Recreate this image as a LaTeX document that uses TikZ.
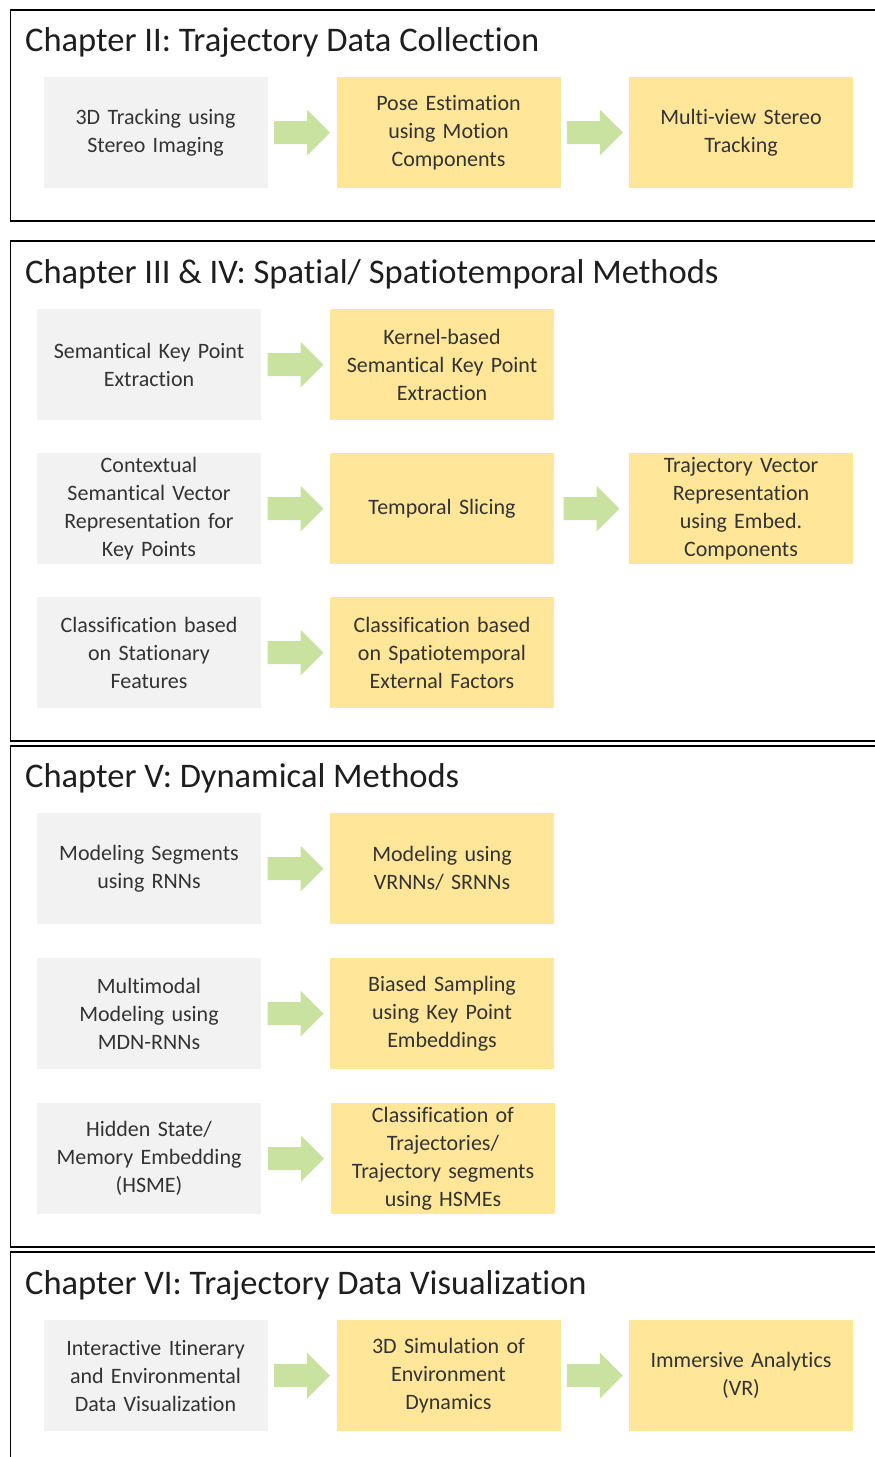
\documentclass[tikz,border=0pt]{standalone}
\usepackage{fontspec}
\setmainfont{Carlito}[Ligatures={NoCommon}]
\usetikzlibrary{calc}
\definecolor{greybox}{HTML}{F2F2F2}
\definecolor{yellowbox}{HTML}{FFE699}
\definecolor{arrowgreen}{RGB}{202,226,160}
\definecolor{boxtext}{HTML}{333333}
\definecolor{titletext}{HTML}{1E1E1E}
\tikzset{
  chapterframe/.style={draw=black, line width=1.6pt},
  chaptertitle/.style={anchor=base west, inner sep=0pt, text=titletext,
    font=\fontsize{34.5}{40}\selectfont},
  stagebox/.style={rectangle, minimum width=224pt, minimum height=111pt,
    text width=222pt, align=center, inner sep=0pt, text=boxtext,
    font=\fontsize{22}{28}\selectfont},
  basebox/.style={stagebox, fill=greybox},
  nextbox/.style={stagebox, fill=yellowbox},
}
% block arrow centred between two named boxes
\newcommand{\flowarrow}[2]{%
  \fill[arrowgreen, shift={($(#1.east)!0.5!(#2.west)$)}]
    (-28,-11.5) -- (5,-11.5) -- (5,-23) -- (28,0) -- (5,23) -- (5,11.5)
    -- (-28,11.5) -- cycle;}
\begin{document}
\begin{tikzpicture}[x=1pt,y=-1pt]
\useasboundingbox[fill=white] (0,0) rectangle (875,1457);
\begin{scope}
\clip (0,0) rectangle (875,1457);
% chapter frames
\draw[chapterframe] (10.5,10) rectangle (900,221);
\draw[chapterframe] (10.5,241) rectangle (900,741);
\draw[chapterframe] (10.5,746) rectangle (900,1247);
\draw[chapterframe] (10.5,1252) rectangle (900,1480);
\end{scope}

% Chapter II
\node[chaptertitle] (t2) at (25,51) {Chapter II: Trajectory Data Collection};
\node[basebox] (a1) at (155.5,132.5) {3D Tracking using\\Stereo Imaging};
\node[nextbox] (a2) at (448.5,132.5) {Pose Estimation\\using Motion\\Components};
\node[nextbox] (a3) at (741,132.5) {Multi-view Stereo\\Tracking};
\flowarrow{a1}{a2}
\flowarrow{a2}{a3}

% Chapter III & IV
\node[chaptertitle] (t3) at (25,283) {Chapter III \& IV: Spatial/ Spatiotemporal Methods};
\node[basebox] (b1) at (149,364.5) {Semantical Key Point\\Extraction};
\node[nextbox] (b2) at (442,364.5) {Kernel-based\\Semantical Key Point\\Extraction};
\flowarrow{b1}{b2}
\node[basebox] (c1) at (149,508.5) {Contextual\\Semantical Vector\\Representation for\\Key Points};
\node[nextbox] (c2) at (442,508.5) {Temporal Slicing};
\node[nextbox] (c3) at (741,508.5) {Trajectory Vector\\Representation\\using Embed.\\Components};
\flowarrow{c1}{c2}
\flowarrow{c2}{c3}
\node[basebox] (d1) at (149,652.5) {Classification based\\on Stationary\\Features};
\node[nextbox] (d2) at (442,652.5) {Classification based\\on Spatiotemporal\\External Factors};
\flowarrow{d1}{d2}

% Chapter V
\node[chaptertitle] (t5) at (25,787) {Chapter V: Dynamical Methods};
\node[basebox] (e1) at (149,868.5) {Modeling Segments\\using RNNs};
\node[nextbox] (e2) at (442,868.5) {Modeling using\\VRNNs/ SRNNs};
\flowarrow{e1}{e2}
\node[basebox] (f1) at (149,1013.5) {Multimodal\\Modeling using\\MDN-RNNs};
\node[nextbox] (f2) at (442,1013.5) {Biased Sampling\\using Key Point\\Embeddings};
\flowarrow{f1}{f2}
\node[basebox] (g1) at (149,1158.5) {Hidden State/\\Memory Embedding\\(HSME)};
\node[nextbox] (g2) at (443,1158.5) {Classification of\\Trajectories/\\Trajectory segments\\using HSMEs};
\flowarrow{g1}{g2}

% Chapter VI
\node[chaptertitle] (t6) at (25,1294) {Chapter VI: Trajectory Data Visualization};
\node[basebox] (h1) at (155.5,1375.5) {Interactive Itinerary\\and Environmental\\Data Visualization};
\node[nextbox] (h2) at (448.5,1375.5) {3D Simulation of\\Environment\\Dynamics};
\node[nextbox] (h3) at (741,1375.5) {Immersive Analytics\\(VR)};
\flowarrow{h1}{h2}
\flowarrow{h2}{h3}
\end{tikzpicture}
\end{document}
